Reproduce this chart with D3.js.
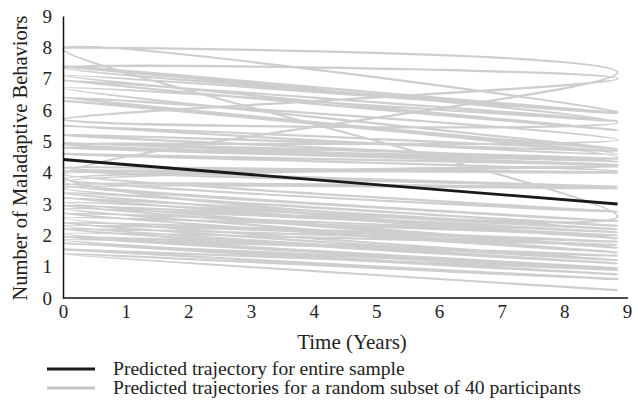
<!DOCTYPE html>
<html>
<head>
<meta charset="utf-8">
<script src="https://cdn.jsdelivr.net/npm/d3@7"></script>
<style>
  body { margin: 0; background: #fff; }
  svg text { font-family: "Liberation Serif", "DejaVu Serif", serif; fill: #222; }
</style>
</head>
<body>
<svg class="chart" width="638" height="400"></svg>
<script>
// time span of the predicted trajectories (years)
var tStart = 0, tEnd = 8.85;

// predicted behaviours at start / end, per participant (drawn in this order)
var startVals = [8.0, 3.9, 7.95, 7.4, 5.7, 7.35, 7.1, 6.95, 6.7, 6.4, 4.9, 6.3, 5.5, 5.2,
                 4.95, 4.8, 4.6, 4.15, 4.05, 3.95, 3.8, 3.7, 3.6, 3.5, 3.35, 3.2, 3.05,
                 2.95, 2.85, 2.7, 2.55, 2.4, 2.3, 2.2, 2.05, 1.95, 1.85, 1.75, 1.55, 1.4];
var endVals   = [7.2, 2.6, 5.95, 5.6, 7.0, 5.9, 5.35, 5.65, 4.75, 5.05, 4.5, 4.6, 4.7, 4.35,
                 4.45, 4.25, 4.05, 3.55, 4.0, 2.75, 4.2, 2.45, 3.5, 2.3, 1.9, 2.2, 1.6,
                 2.1, 1.45, 2.0, 1.2, 1.8, 1.1, 1.7, 0.95, 1.35, 0.75, 0.9, 0.6, 0.25];

// trajectory for the entire sample
var sampleStart = 4.42, sampleEnd = 3.0;

var xTicks = [0, 1, 2, 3, 4, 5, 6, 7, 8, 9];
var yTicks = [0, 1, 2, 3, 4, 5, 6, 7, 8, 9];

var svg = d3.select("svg.chart");

var x = d3.scaleLinear().domain([0, 9]).range([63, 627]);
var y = d3.scaleLinear().domain([0, 9]).range([298, 16]);

// all participant trajectories joined in one smoothed series
var pts = [];
startVals.forEach(function(s, i) {
    pts.push([tStart, s]);
    pts.push([tEnd, endVals[i]]);
});

var line = d3.line()
    .x(function(d) { return x(d[0]); })
    .y(function(d) { return y(d[1]); })
    .curve(d3.curveCatmullRom);

svg.append("path")
    .attr("d", line(pts))
    .attr("fill", "none")
    .attr("stroke", "#cdcfcf")
    .attr("stroke-width", 2.2);

svg.append("path")
    .attr("d", d3.line()
        .x(function(d) { return x(d[0]); })
        .y(function(d) { return y(d[1]); })([[tStart, sampleStart], [tEnd, sampleEnd]]))
    .attr("fill", "none")
    .attr("stroke", "#1a1a1a")
    .attr("stroke-width", 2.8);

// axes
var xAxis = d3.axisBottom(x).tickValues(xTicks).tickSize(0).tickPadding(7);
var yAxis = d3.axisLeft(y).tickValues(yTicks).tickSize(0).tickPadding(11);

var gx = svg.append("g").attr("transform", "translate(0," + y(0) + ")").call(xAxis);
var gy = svg.append("g").attr("transform", "translate(" + x(0) + ",0)").call(yAxis);

[gx, gy].forEach(function(g) {
    g.select(".domain").attr("stroke", "#111").attr("stroke-width", 1.5);
    g.selectAll("text").style("font-size", "19px").attr("fill", "#222");
});
gx.select(".domain").attr("d", "M" + x(0) + ",0H" + (x(9) + 1));

svg.append("text")
    .attr("x", 352).attr("y", 349)
    .attr("text-anchor", "middle")
    .style("font-size", "21px")
    .text("Time (Years)");

svg.append("text")
    .attr("transform", "translate(20," + 158 + ") rotate(-90)")
    .attr("text-anchor", "middle")
    .attr("dy", "0.35em")
    .style("font-size", "20.5px")
    .text("Number of Maladaptive Behaviors");

// legend
var legend = [
    {label: "Predicted trajectory for entire sample", color: "#1a1a1a", w: 2.8},
    {label: "Predicted trajectories for a random subset of 40 participants", color: "#c4c6c6", w: 2.8}
];
legend.forEach(function(d, i) {
    var ly = 369 + i * 19;
    svg.append("line")
        .attr("x1", 47).attr("x2", 95)
        .attr("y1", ly).attr("y2", ly)
        .attr("stroke", d.color)
        .attr("stroke-width", d.w);
    svg.append("text")
        .attr("x", 113).attr("y", ly + 6)
        .style("font-size", "19.6px")
        .text(d.label);
});
</script>
</body>
</html>
